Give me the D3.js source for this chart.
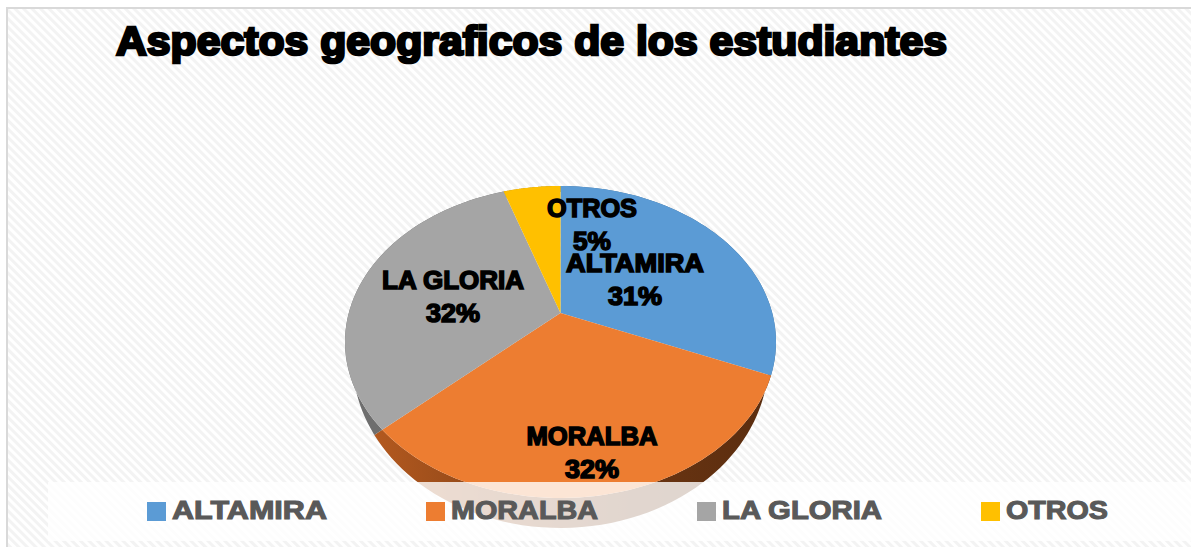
<!DOCTYPE html>
<html><head><meta charset="utf-8">
<script src="https://cdn.jsdelivr.net/npm/d3@7/dist/d3.min.js"></script>
<style>html,body{margin:0;padding:0;background:#fff;overflow:hidden}svg{display:block}text{font-family:"Liberation Sans",Arial,sans-serif;font-weight:700}</style>
</head><body><div id="c"></div>
<script>
const title = "Aspectos geograficos de los estudiantes";
const categories = ["ALTAMIRA","MORALBA","LA GLORIA","OTROS"];
const values = [31.2,32.1,31.5,5.2];
const colors = ["#5b9bd5","#ed7d31","#a5a5a5","#ffc000"];
const labelPos = [[635,272],[592,445],[453,289],[592,217]];
const labelWidths = [138,131,142,90];
const pctWidths = [54,54,54,38];
const legendX = [147,426,697,981];
const legendWidths = [155,147,160,102];
const W=1191,H=547;
const top_={cx:560.5,cy:342,rx:215.5,ry:156}, bot={cx:560.5,cy:360,rx:208,ry:168};
const apex={x:560.5,y:313};

const svg=d3.select("#c").append("svg").attr("width",W).attr("height",H);
const defs=svg.append("defs");
const pat=defs.append("pattern").attr("id","hatch").attr("patternUnits","userSpaceOnUse")
  .attr("width",6).attr("height",6).attr("patternTransform","rotate(45)");
pat.append("rect").attr("width",6).attr("height",6).attr("fill","#ffffff");
pat.append("rect").attr("width",6).attr("height",3).attr("fill","#f3f3f3");
const g1=defs.append("linearGradient").attr("id","orangeSide");
[[0,"#b3591f"],[0.3,"#8f4718"],[0.65,"#6b3512"],[1,"#5a2d0f"]].forEach(s=>g1.append("stop").attr("offset",s[0]).attr("stop-color",s[1]));
const fillSide=["#3f6c95","url(#orangeSide)","#6e6e6e","#b38600"];

const fit=(sel,widths)=>sel.attr("textLength",(d,i)=>widths[i]).attr("lengthAdjust","spacingAndGlyphs");

svg.append("rect").attr("width",W).attr("height",H).attr("fill","#fff");
svg.append("rect").attr("x",8).attr("y",9).attr("width",W-8).attr("height",H-9).attr("fill","url(#hatch)");
svg.append("rect").attr("x",6).attr("y",7).attr("width",W-6).attr("height",2).attr("fill","#d9d9d9");
svg.append("rect").attr("x",6).attr("y",7).attr("width",2).attr("height",H-7).attr("fill","#d9d9d9");

svg.append("text").attr("x",116).attr("y",54.5).attr("font-size",41).attr("fill","#000")
  .attr("stroke","#000").attr("stroke-width",2.6).attr("textLength",831).attr("lengthAdjust","spacingAndGlyphs").text(title);

function hit(a,e){
  const dx=Math.sin(a)*top_.rx, dy=-Math.cos(a)*top_.ry;
  const ox=apex.x-e.cx, oy=apex.y-e.cy;
  const A=dx*dx/(e.rx*e.rx)+dy*dy/(e.ry*e.ry);
  const B=2*(ox*dx/(e.rx*e.rx)+oy*dy/(e.ry*e.ry));
  const C=ox*ox/(e.rx*e.rx)+oy*oy/(e.ry*e.ry)-1;
  const s=(-B+Math.sqrt(B*B-4*A*C))/(2*A);
  return [apex.x+dx*s,apex.y+dy*s];
}
const arcs=d3.pie().sort(null).value(d=>d)(values);
const line=d3.line();
const sample=d=>d3.range(0,61).map(i=>d.startAngle+(d.endAngle-d.startAngle)*i/60);

svg.append("g").selectAll("path").data(arcs).join("path")
  .attr("d",d=>{const t=sample(d);return line(t.map(a=>hit(a,top_)).concat(t.slice().reverse().map(a=>hit(a,bot))))+"Z";})
  .attr("fill",(d,i)=>fillSide[i]);
svg.append("g").selectAll("path").data(arcs).join("path")
  .attr("d",d=>line([[apex.x,apex.y]].concat(sample(d).map(a=>hit(a,top_))))+"Z")
  .attr("fill",(d,i)=>colors[i]);

const total=d3.sum(values);
const lab=svg.append("g").selectAll("g").data(arcs).join("g")
  .attr("transform",(d,i)=>`translate(${labelPos[i][0]},${labelPos[i][1]})`)
  .attr("text-anchor","middle").attr("fill","#000").attr("stroke","#000").attr("stroke-width",1.5).attr("font-size",25);
lab.append("text").text((d,i)=>categories[i]).call(fit,labelWidths);
lab.append("text").attr("y",33).text(d=>Math.round(d.value/total*100)+"%").call(fit,pctWidths);

svg.append("rect").attr("x",48).attr("y",482).attr("width",W-48).attr("height",59).attr("fill","#fff").attr("fill-opacity",0.8);
const leg=svg.append("g").selectAll("g").data(categories).join("g").attr("transform",(d,i)=>`translate(${legendX[i]},502)`);
leg.append("rect").attr("width",19).attr("height",19).attr("fill",(d,i)=>colors[i]);
leg.append("text").attr("x",25).attr("y",17).attr("font-size",26).attr("fill","#595959").attr("stroke","#595959").attr("stroke-width",1.1).text(d=>d).call(fit,legendWidths);
</script></body></html>
